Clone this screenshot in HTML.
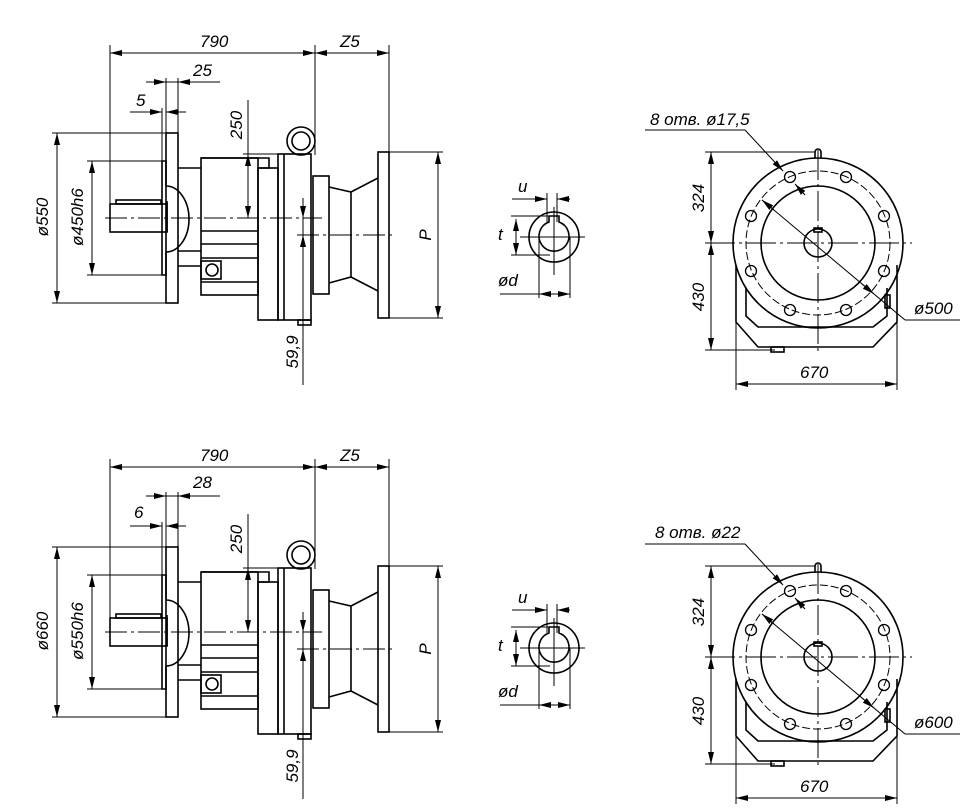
<!DOCTYPE html>
<html><head><meta charset="utf-8"><style>
html,body{margin:0;padding:0;background:#fff;}
svg{display:block;}
text{font-family:"Liberation Sans",sans-serif;font-style:italic;font-size:17px;fill:#000;}
</style></head><body>
<svg width="980" height="809" viewBox="0 0 980 809" xmlns="http://www.w3.org/2000/svg">
<defs>
<marker id="a" viewBox="0 0 12 6" refX="12" refY="3" markerWidth="12" markerHeight="6" orient="auto-start-reverse" markerUnits="userSpaceOnUse"><path d="M0,0 L12,3 L0,6 z" fill="#000"/></marker>
<g id="side" fill="none" stroke="#000">
 <g stroke-width="1">
  <line x1="110" y1="53" x2="315" y2="53" marker-start="url(#a)" marker-end="url(#a)"/>
  <line x1="315" y1="53" x2="389" y2="53" marker-start="url(#a)" marker-end="url(#a)"/>
  <line x1="110" y1="45" x2="110" y2="212"/>
  <line x1="315" y1="45" x2="315" y2="155"/>
  <line x1="389" y1="45" x2="389" y2="152"/>
  <line x1="146" y1="82" x2="166" y2="82" marker-end="url(#a)"/>
  <line x1="166" y1="82" x2="178" y2="82"/>
  <line x1="220" y1="82" x2="178" y2="82" marker-end="url(#a)"/>
  <line x1="130" y1="112" x2="162" y2="112" marker-end="url(#a)"/>
  <line x1="186" y1="112" x2="166" y2="112" marker-end="url(#a)"/>
  <line x1="166" y1="78" x2="166" y2="133"/>
  <line x1="178" y1="78" x2="178" y2="133"/>
  <line x1="162" y1="108" x2="162" y2="161"/>
  <line x1="57" y1="133" x2="57" y2="303" marker-start="url(#a)" marker-end="url(#a)"/>
  <line x1="52" y1="133" x2="166" y2="133"/>
  <line x1="52" y1="303" x2="166" y2="303"/>
  <line x1="92" y1="161" x2="92" y2="275" marker-start="url(#a)" marker-end="url(#a)"/>
  <line x1="87" y1="161" x2="162" y2="161"/>
  <line x1="87" y1="275" x2="162" y2="275"/>
  <line x1="248" y1="100" x2="248" y2="154"/>
  <line x1="248" y1="154" x2="248" y2="218" marker-start="url(#a)" marker-end="url(#a)"/>
  <line x1="243" y1="154" x2="278" y2="154"/>
  <line x1="303" y1="198" x2="303" y2="218" marker-end="url(#a)"/>
  <line x1="303" y1="218" x2="303" y2="235"/>
  <line x1="303" y1="255" x2="303" y2="235" marker-end="url(#a)"/>
  <line x1="303" y1="255" x2="303" y2="385"/>
  <line x1="438" y1="152" x2="438" y2="318" marker-start="url(#a)" marker-end="url(#a)"/>
  <line x1="389" y1="152" x2="443" y2="152"/>
  <line x1="389" y1="318" x2="443" y2="318"/>
  <line x1="105" y1="218" x2="322" y2="218" stroke-dasharray="22,4,3,4"/>
  <line x1="297" y1="235" x2="395" y2="235" stroke-dasharray="22,4,3,4"/>
 </g>
 <g stroke-width="1.6">
  <rect x="166" y="133" width="12" height="170"/>
  <path d="M162,161 H166 V186 A23,33 0 0 1 166,252 V275 H162 Z"/>
  <rect x="110" y="204" width="57" height="28"/>
  <rect x="116" y="200" width="45" height="4"/>
  <line x1="167" y1="201" x2="167" y2="232"/>
  <line x1="178" y1="168" x2="201" y2="168"/>
  <line x1="178" y1="251" x2="201" y2="251"/>
  <line x1="178" y1="266" x2="201" y2="266"/>
  <rect x="201" y="158" width="57" height="137"/>
  <path d="M201,158 H269 V168 H258"/>
  <line x1="201" y1="231" x2="258" y2="231"/>
  <line x1="201" y1="244" x2="258" y2="244"/>
  <line x1="201" y1="258" x2="258" y2="258"/>
  <line x1="201" y1="282" x2="258" y2="282"/>
  <rect x="201" y="261" width="20" height="18"/>
  <circle cx="212" cy="270" r="6"/>
  <rect x="258" y="168" width="20" height="152"/>
  <rect x="278" y="154" width="33" height="166"/>
  <line x1="284" y1="154" x2="284" y2="320"/>
  <circle cx="301" cy="141" r="14"/>
  <circle cx="301" cy="141" r="9"/>
  <rect x="298" y="320" width="13" height="5"/>
  <rect x="313" y="176" width="16" height="118"/>
  <path d="M329,187 L351,192 L378,178 M329,283 L351,277 L378,291 M351,192 V277"/>
  <rect x="378" y="152" width="11" height="166"/>
 </g>
</g>
<g id="key" fill="none" stroke="#000">
 <g stroke-width="1">
  <line x1="512" y1="199" x2="547" y2="199" marker-end="url(#a)"/>
  <line x1="570" y1="199" x2="557" y2="199" marker-end="url(#a)"/>
  <line x1="547" y1="193" x2="547" y2="222"/>
  <line x1="557" y1="193" x2="557" y2="222"/>
  <line x1="516" y1="219" x2="516" y2="255" marker-start="url(#a)" marker-end="url(#a)"/>
  <line x1="511" y1="216" x2="548" y2="216"/>
  <line x1="511" y1="255" x2="550" y2="255"/>
  <line x1="500" y1="294" x2="551" y2="294"/>
  <line x1="539" y1="294" x2="570" y2="294" marker-start="url(#a)" marker-end="url(#a)"/>
  <line x1="539" y1="237" x2="539" y2="298"/>
  <line x1="570" y1="237" x2="570" y2="298"/>
  <line x1="520" y1="237" x2="585" y2="237"/>
  <line x1="554" y1="207" x2="554" y2="275"/>
 </g>
 <g stroke-width="1.6">
  <circle cx="554" cy="237" r="25"/>
  <path d="M549,222 V216 H559 V222 A15,15 0 1 1 549,222 Z"/>
 </g>
</g>
<g id="front" fill="none" stroke="#000">
 <g stroke-width="1.6">
  <path d="M736,265 V322 L758,347 H873 L897,322 V265"/>
  <path d="M746,288 V316 L758,327 H873 L887,316 V288"/>
  <circle cx="818" cy="243" r="85"/>
  <circle cx="818" cy="243" r="57"/>
  <circle cx="818" cy="243" r="14"/>
  <rect x="814" y="228" width="8" height="4"/>
  <path d="M815,158 V152 A3,3 0 0 1 821,152 V158"/>
  <rect x="771" y="347" width="13" height="5"/>
  <rect x="885" y="295" width="5" height="13"/>
  <g stroke-width="1.3">
   <circle cx="790" cy="177" r="5.5"/><circle cx="846" cy="177" r="5.5"/>
   <circle cx="884" cy="216" r="5.5"/><circle cx="884" cy="271" r="5.5"/>
   <circle cx="846" cy="310" r="5.5"/><circle cx="790" cy="310" r="5.5"/>
   <circle cx="751" cy="271" r="5.5"/><circle cx="751" cy="216" r="5.5"/>
  </g>
 </g>
 <g stroke-width="1">
  <line x1="711" y1="152" x2="711" y2="243" marker-start="url(#a)" marker-end="url(#a)"/>
  <line x1="711" y1="243" x2="711" y2="350" marker-start="url(#a)" marker-end="url(#a)"/>
  <line x1="705" y1="152" x2="815" y2="152"/>
  <line x1="705" y1="350" x2="775" y2="350"/>
  <line x1="705" y1="243" x2="912" y2="243" stroke-dasharray="30,4,3,4"/>
  <line x1="818" y1="150" x2="818" y2="352" stroke-dasharray="30,4,3,4"/>
  <line x1="736" y1="322" x2="736" y2="390"/>
  <line x1="897" y1="322" x2="897" y2="390"/>
  <line x1="736" y1="384" x2="897" y2="384" marker-start="url(#a)" marker-end="url(#a)"/>
  <circle cx="818" cy="243" r="72" stroke-dasharray="8,3"/>
  <line x1="645" y1="130" x2="745" y2="130"/>
  <line x1="745" y1="130" x2="783" y2="171" marker-end="url(#a)"/>
  <line x1="805" y1="195" x2="795" y2="184" marker-end="url(#a)"/>
  <line x1="762" y1="200" x2="905" y2="320"/>
  <line x1="762" y1="200" x2="774" y2="210" marker-start="url(#a)"/>
  <line x1="874" y1="294" x2="862" y2="284" marker-start="url(#a)"/>
  <line x1="905" y1="320" x2="960" y2="320"/>
 </g>
</g>
</defs>

<use href="#side"/>
<use href="#key"/>
<use href="#front"/>
<g transform="translate(0,414)"><use href="#side"/><use href="#front"/></g>
<g transform="translate(0,411)"><use href="#key"/></g>

<text x="200" y="47">790</text>
<text x="340" y="47">Z5</text>
<text x="193" y="76">25</text>
<text x="136" y="106">5</text>
<text transform="translate(48,217) rotate(-90)" text-anchor="middle">ø550</text>
<text transform="translate(83,217) rotate(-90)" text-anchor="middle">ø450h6</text>
<text transform="translate(242,125) rotate(-90)" text-anchor="middle">250</text>
<text transform="translate(298,352) rotate(-90)" text-anchor="middle">59,9</text>
<text transform="translate(431,235) rotate(-90)" text-anchor="middle">P</text>
<text x="518" y="192">u</text>
<text x="498" y="240">t</text>
<text x="498" y="286">ød</text>
<text x="650" y="125">8 отв. ø17,5</text>
<text transform="translate(704,198) rotate(-90)" text-anchor="middle">324</text>
<text transform="translate(704,297) rotate(-90)" text-anchor="middle">430</text>
<text x="800" y="378">670</text>
<text x="914" y="314">ø500</text>

<text x="200" y="461">790</text>
<text x="340" y="461">Z5</text>
<text x="193" y="488">28</text>
<text x="134" y="518">6</text>
<text transform="translate(48,631) rotate(-90)" text-anchor="middle">ø660</text>
<text transform="translate(83,631) rotate(-90)" text-anchor="middle">ø550h6</text>
<text transform="translate(242,539) rotate(-90)" text-anchor="middle">250</text>
<text transform="translate(298,766) rotate(-90)" text-anchor="middle">59,9</text>
<text transform="translate(431,649) rotate(-90)" text-anchor="middle">P</text>
<text x="518" y="603">u</text>
<text x="498" y="651">t</text>
<text x="498" y="697">ød</text>
<text x="655" y="538">8 отв. ø22</text>
<text transform="translate(704,612) rotate(-90)" text-anchor="middle">324</text>
<text transform="translate(704,711) rotate(-90)" text-anchor="middle">430</text>
<text x="800" y="792">670</text>
<text x="914" y="728">ø600</text>
</svg>
</body></html>
